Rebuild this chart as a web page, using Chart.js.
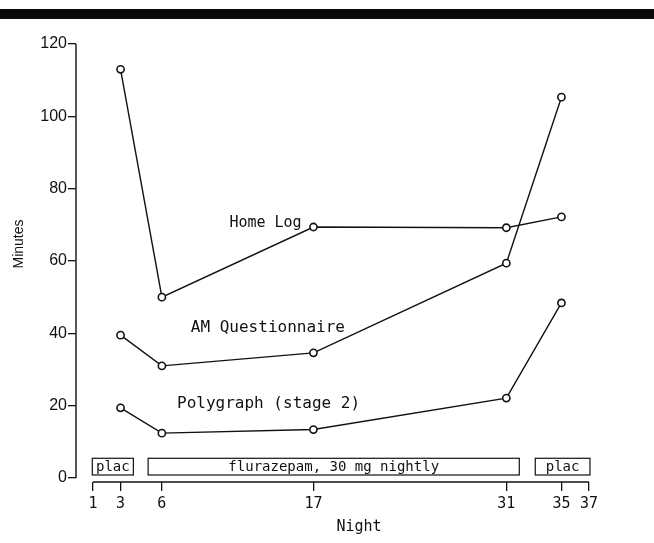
<!DOCTYPE html>
<html>
<head>
<meta charset="utf-8">
<script src="https://cdn.jsdelivr.net/npm/chart.js@4/dist/chart.umd.min.js"></script>
<style>
  html, body { margin: 0; padding: 0; background: #fff; }
  #wrap { width: 654px; height: 543px; position: relative; }
</style>
</head>
<body>
<div id="wrap"><canvas id="c" width="654" height="543"></canvas></div>
<script>
// ---- data ----
const nights = [3, 6, 17, 31, 35];
const homeLog = [113, 50, 69.4, 69.2, 72.2];
const amQuestionnaire = [39.5, 31, 34.6, 59.4, 105.3];
const polygraph = [19.4, 12.4, 13.4, 22.1, 48.4];
const seriesNames = ['Home Log', 'AM Questionnaire', 'Polygraph (stage 2)'];
const xTickValues = [1, 3, 6, 17, 31, 35, 37];
const yTickValues = [0, 20, 40, 60, 80, 100, 120];
const periodLabels = ['plac', 'flurazepam, 30 mg nightly', 'plac'];
const periodStart = [0.95, 5.0, 33.1];
const periodEnd = [3.93, 31.94, 37.07];

// annotation anchors (in data units)
const seriesLabelNight = [10.9, 8.1, 7.1];
const seriesLabelValue = [70.6, 41.5, 20.5];

const INK = '#111';
const MONO = '"DejaVu Sans Mono", "Liberation Mono", monospace';
const SANS = '"Liberation Sans", Arial, sans-serif';

function pts(vals) { return nights.map((n, i) => ({ x: n, y: vals[i] })); }
function ds(label, vals) {
  return {
    label, data: pts(vals),
    borderColor: INK, borderWidth: 1.4, tension: 0,
    pointStyle: 'circle', pointRadius: 3.6, pointBorderWidth: 1.6,
    pointBackgroundColor: '#fff', pointBorderColor: INK, fill: false
  };
}

const decor = {
  id: 'decor',
  beforeDraw(chart) {
    const ctx = chart.ctx;
    ctx.save();
    ctx.fillStyle = '#fff';
    ctx.fillRect(0, 0, chart.width, chart.height);
    ctx.fillStyle = '#0a0a0a';
    ctx.fillRect(0, 9, chart.width, 10);
    ctx.restore();
  },
  afterDraw(chart) {
    const ctx = chart.ctx;
    const xs = chart.scales.x, ys = chart.scales.y;
    const ca = chart.chartArea;
    ctx.save();
    ctx.strokeStyle = INK;
    ctx.fillStyle = INK;
    ctx.lineWidth = 1.4;
    // y axis line
    ctx.beginPath();
    ctx.moveTo(ca.left, ys.getPixelForValue(yTickValues[yTickValues.length - 1]));
    ctx.lineTo(ca.left, ys.getPixelForValue(yTickValues[0]));
    ctx.stroke();
    // x axis line
    ctx.beginPath();
    ctx.moveTo(xs.getPixelForValue(xTickValues[0]), ca.bottom);
    ctx.lineTo(xs.getPixelForValue(xTickValues[xTickValues.length - 1]), ca.bottom);
    ctx.stroke();
    // period boxes
    ctx.lineWidth = 1.2;
    ctx.font = '14px ' + MONO;
    ctx.textAlign = 'center';
    ctx.textBaseline = 'middle';
    const yTop = ys.getPixelForValue(5.45), yBot = ys.getPixelForValue(0.83);
    periodLabels.forEach((lab, i) => {
      const x0 = xs.getPixelForValue(periodStart[i]);
      const x1 = xs.getPixelForValue(periodEnd[i]);
      ctx.strokeRect(x0, yTop, x1 - x0, yBot - yTop);
      ctx.fillText(lab, (x0 + x1) / 2, (yTop + yBot) / 2 + 0.5);
    });
    // series labels
    ctx.textAlign = 'left';
    seriesNames.forEach((n, i) => {
      ctx.font = (i === 0 ? '15px ' : '16px ') + MONO;
      ctx.fillText(n, xs.getPixelForValue(seriesLabelNight[i]), ys.getPixelForValue(seriesLabelValue[i]));
    });
    // axis titles
    ctx.font = '15px ' + MONO;
    ctx.textAlign = 'center';
    ctx.fillText('Night', 359, 527);
    ctx.save();
    ctx.translate(19, 244);
    ctx.rotate(-Math.PI / 2);
    ctx.font = '14px ' + SANS;
    ctx.fillText('Minutes', 0, 0);
    ctx.restore();
    ctx.restore();
  }
};

new Chart(document.getElementById('c'), {
  type: 'line',
  data: {
    datasets: [ds(seriesNames[0], homeLog), ds(seriesNames[1], amQuestionnaire), ds(seriesNames[2], polygraph)]
  },
  options: {
    responsive: false,
    animation: false,
    events: [],
    layout: { padding: { left: 0, top: 44, right: 65, bottom: 0 } },
    plugins: { legend: { display: false }, title: { display: false }, tooltip: { enabled: false } },
    scales: {
      x: {
        type: 'linear', min: -0.234, max: 37,
        afterBuildTicks: s => { s.ticks = xTickValues.map(v => ({ value: v })); },
        afterFit: s => { s.height = 61; },
        border: { display: false },
        grid: { drawOnChartArea: false, drawTicks: true, tickLength: 9, color: INK, lineWidth: 1.3 },
        ticks: { color: INK, font: { family: MONO, size: 15 }, padding: 4, maxRotation: 0, autoSkip: false,
                 callback: v => String(v) }
      },
      y: {
        type: 'linear', min: -1.106, max: 120,
        afterBuildTicks: s => { s.ticks = yTickValues.map(v => ({ value: v })); },
        afterFit: s => { s.width = 76; },
        border: { display: false },
        grid: { drawOnChartArea: false, drawTicks: true, tickLength: 8, color: INK, lineWidth: 1.3 },
        ticks: { color: INK, font: { family: SANS, size: 16 }, padding: 1, callback: v => String(v) }
      }
    }
  },
  plugins: [decor]
});
</script>
</body>
</html>
